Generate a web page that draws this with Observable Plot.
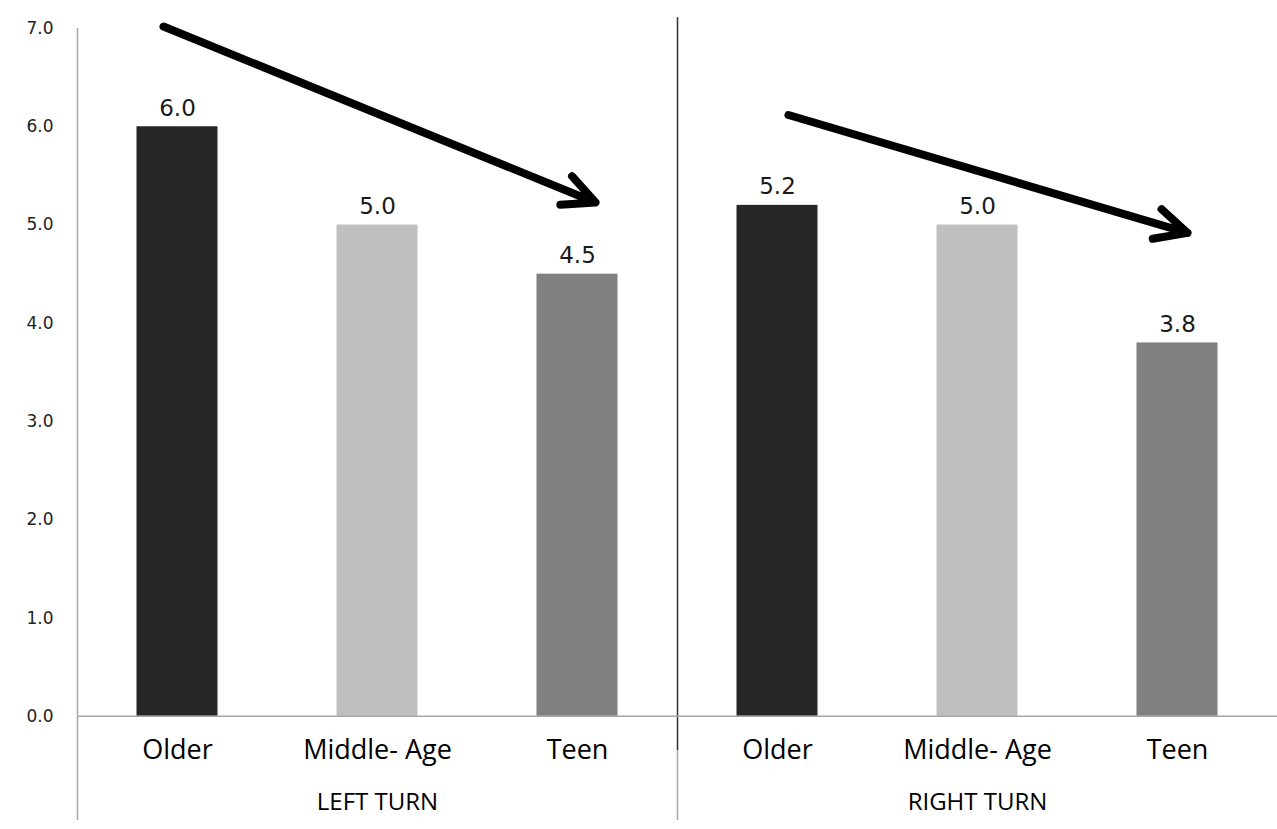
<!DOCTYPE html>
<html>
<head>
<meta charset="utf-8">
<script src="https://cdn.jsdelivr.net/npm/d3@7"></script>
<script src="https://cdn.jsdelivr.net/npm/@observablehq/plot@0.6"></script>
<style>
  html, body { margin: 0; padding: 0; background: #fff; }
  #chart { width: 1277px; height: 829px; }
</style>
</head>
<body>
<div id="chart"></div>
<script>
// ---- data ----
const groups = ["LEFT TURN", "RIGHT TURN"];
const categories = ["Older", "Middle- Age", "Teen"];
const leftValues = [6.0, 5.0, 4.5];
const rightValues = [5.2, 5.0, 3.8];
const categoryColors = ["#262626", "#bfbfbf", "#808080"];
const yTicks = [0, 1, 2, 3, 4, 5, 6, 7];

// trend arrows (x in category slots, y in value units)
const arrows = [
  {x1: 0.43, y1: 7.02, x2: 2.59, y2: 5.23},
  {x1: 3.555, y1: 6.12, x2: 5.55, y2: 4.92}
];

// ---- build rows ----
const seriesValues = [leftValues, rightValues];
const rows = [];
groups.forEach((g, gi) => {
  categories.forEach((c, ci) => {
    rows.push({group: g, category: c, value: seriesValues[gi][ci], slot: gi * categories.length + ci, color: categoryColors[ci]});
  });
});
const groupRows = groups.map((g, gi) => ({group: g, mid: gi * categories.length + categories.length / 2}));
const nSlots = groups.length * categories.length;
const yMin = -1.06, yMax = 7;
const fmt = d3.format(".1f");

const chart = Plot.plot({
  width: 1277,
  height: 829,
  marginLeft: 77,
  marginRight: 0,
  marginTop: 28,
  marginBottom: 9,
  x: {type: "linear", domain: [0, nSlots], axis: null},
  y: {domain: [yMin, yMax], axis: null},
  style: {background: "#fff", overflow: "visible"},
  marks: [
    // y tick labels
    Plot.text(yTicks, {y: d => d, frameAnchor: "left", text: d => fmt(d), textAnchor: "end",
      dx: -24, fontSize: 17, fontFamily: "DejaVu Sans", fill: "#222"}),
    // left axis line
    Plot.ruleX([0], {y1: yMin, y2: yMax, stroke: "#a6a6a6", strokeWidth: 1.5}),
    // group separator
    Plot.ruleX([categories.length], {y1: -0.35, y2: 7.11, stroke: "#333", strokeWidth: 1.5}),
    Plot.ruleX([categories.length], {y1: yMin, y2: -0.35, stroke: "#a6a6a6", strokeWidth: 1.5}),
    // bars
    Plot.rectY(rows, {x1: "slot", x2: d => d.slot + 1, y1: 0, y2: "value", fill: "color",
      insetLeft: 59.5, insetRight: 59.5}),
    // baseline
    Plot.ruleY([0], {stroke: "#a6a6a6", strokeWidth: 1.5}),
    // value labels
    Plot.text(rows, {x: d => d.slot + 0.5, y: "value", text: d => fmt(d.value),
      lineAnchor: "bottom", dy: -11, fontSize: 23, fontFamily: "DejaVu Sans", fill: "#1a1a1a"}),
    // category labels
    Plot.text(rows, {x: d => d.slot + 0.5, frameAnchor: "bottom", text: "category",
      lineAnchor: "middle", dy: -70, fontSize: 27, fontFamily: "Open Sans", fill: "#000"}),
    // group labels
    Plot.text(groupRows, {x: "mid", frameAnchor: "bottom", text: "group",
      lineAnchor: "middle", dy: -18, fontSize: 24, fontFamily: "Open Sans", fill: "#000"}),
    // arrows
    Plot.arrow(arrows, {x1: "x1", y1: "y1", x2: "x2", y2: "y2", stroke: "#000", strokeWidth: 8,
      headLength: 6.6, headAngle: 52, strokeLinecap: "round", strokeLinejoin: "round"})
  ]
});
document.getElementById("chart").appendChild(chart);
</script>
</body>
</html>
